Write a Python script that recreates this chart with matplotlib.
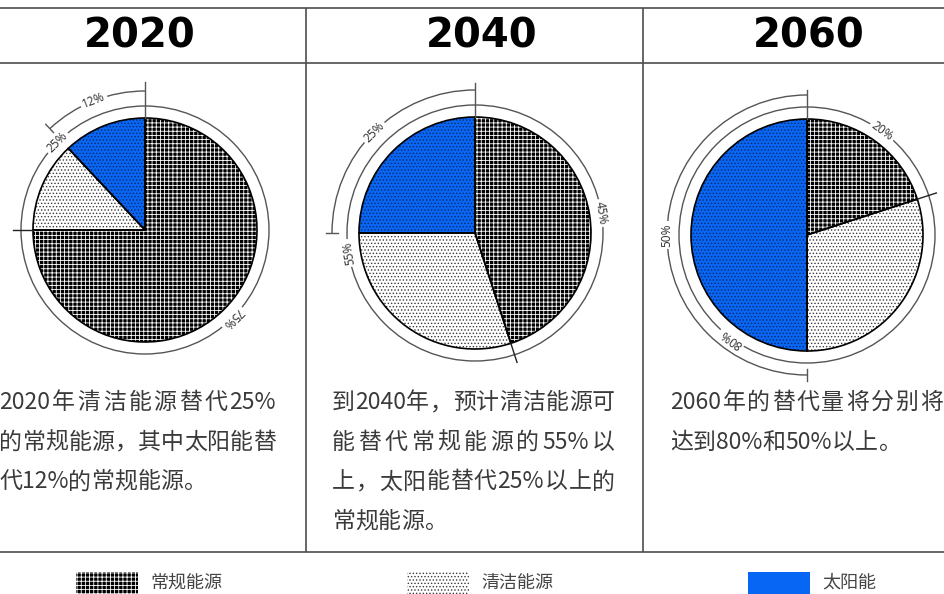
import re
import matplotlib
matplotlib.use('Agg')
import matplotlib.pyplot as plt
import numpy as np
from matplotlib.patches import Arc, Circle, Rectangle
from matplotlib.font_manager import FontProperties, findfont, get_font

# ---------------- data ----------------
years = ['2020', '2040', '2060']
categories = ['常规能源', '清洁能源', '太阳能']
conventional = [75, 45, 20]      # share of conventional energy
clean_other = [13, 30, 30]       # clean energy other than solar
solar = [12, 25, 50]             # solar energy
captions = [
    ['2020年清洁能源替代25%', '的常规能源，其中太阳能替', '代12%的常规能源。'],
    ['到2040年，预计清洁能源可', '能替代常规能源的55%以', '上，太阳能替代25%以上的', '常规能源。'],
    ['2060年的替代量将分别将', '达到80%和50%以上。'],
]

# ---------------- style ----------------
plt.rcParams['hatch.linewidth'] = 0.6
W, H = 944, 594
fig = plt.figure(figsize=(W / 100, H / 100), dpi=100)
ax = fig.add_axes([0, 0, 1, 1])


def Y(y):
    """Pixel row measured from the top -> data y."""
    return H - y


centers = [(145, 230), (475, 233), (807, 235)]
pie_r = [112, 116, 116]
ring_r = [124, 128, 128]
outer_r = [139, 143, 140]
spoke_r = [148, 150, 145]
title_x = [140, 482, 809]
col_left = [-1, 332, 670]
col_right = [276, 615, 943]
legend_x = [76, 407, 748]

fills = [
    dict(face='#000000', hatch='++++', hatch_color='#ffffff'),
    dict(face='#ffffff', hatch='.....', hatch_color='#3a3a3a'),
    dict(face='#0866f4', hatch='.....', hatch_color='#0b2a66'),
]
ARC = '#555555'
GRID = '#4d4d4d'
TXT = '#3a3a3a'
CJK = ['Noto Sans CJK SC', 'DejaVu Sans']

# ---------------- table frame ----------------
for yy in (8, 63, 552):
    ax.plot([0, W], [Y(yy), Y(yy)], color=GRID, lw=1.2, solid_capstyle='butt')
for xx in (306, 643):
    ax.plot([xx, xx], [Y(8), Y(552)], color=GRID, lw=1.2, solid_capstyle='butt')

# ---------------- titles ----------------
for i, yr in enumerate(years):
    ax.text(title_x[i], Y(36), yr, ha='center', va='center', fontsize=29,
            fontweight='bold', family='DejaVu Sans', color='black')


def arc_label(cx, cy, r, ang, text):
    t = np.deg2rad(ang)
    ax.text(cx + r * np.cos(t), cy + r * np.sin(t), text, rotation=ang - 90,
            rotation_mode='anchor', ha='center', va='center', fontsize=8.5,
            color=TXT, family='Noto Sans', zorder=5,
            bbox=dict(boxstyle='square,pad=0.2', fc='white', ec='none'))


# ---------------- pies ----------------
for i in range(3):
    vals = [conventional[i], clean_other[i], solar[i]]
    cx, cy = centers[i][0], Y(centers[i][1])
    wedges, _ = ax.pie(vals, center=(cx, cy), radius=pie_r[i], startangle=90,
                       counterclock=False, colors=[f['face'] for f in fills],
                       wedgeprops=dict(linewidth=0))
    for w, f in zip(wedges, fills):
        w.set_hatch(f['hatch'])
        w.set_edgecolor(f['hatch_color'])
        w.set_linewidth(0)
    ax.pie(vals, center=(cx, cy), radius=pie_r[i], startangle=90,
           counterclock=False,
           wedgeprops=dict(fill=False, edgecolor='black', linewidth=1.2))

    a_conv = 90 - 360 * conventional[i] / 100
    a_solar = 90 - 360 * (conventional[i] + clean_other[i]) / 100 + 360

    # ring: conventional vs. all clean energy
    ax.add_patch(Circle((cx, cy), ring_r[i], fill=False, ec=ARC, lw=1.0))
    arc_label(cx, cy, ring_r[i], (90 + a_conv) / 2, f'{conventional[i]}%')
    arc_label(cx, cy, ring_r[i], (a_conv - 270) / 2,
              f'{clean_other[i] + solar[i]}%')

    # outer arc: solar share
    ax.add_patch(Arc((cx, cy), 2 * outer_r[i], 2 * outer_r[i], theta1=90,
                     theta2=a_solar, ec=ARC, lw=1.0))
    arc_label(cx, cy, outer_r[i], (90 + a_solar) / 2, f'{solar[i]}%')
    t = np.deg2rad(a_solar)
    ax.plot([cx + (outer_r[i] - 6) * np.cos(t), cx + (outer_r[i] + 6) * np.cos(t)],
            [cy + (outer_r[i] - 6) * np.sin(t), cy + (outer_r[i] + 6) * np.sin(t)],
            color=ARC, lw=1.0)

    # spokes
    ax.plot([cx, cx], [cy + pie_r[i], cy + spoke_r[i]], color=ARC, lw=1.0)
    t = np.deg2rad(a_conv)
    ax.plot([cx + pie_r[i] * np.cos(t), cx + (ring_r[i] + 8) * np.cos(t)],
            [cy + pie_r[i] * np.sin(t), cy + (ring_r[i] + 8) * np.sin(t)],
            color='#222222', lw=1.0)

# ---------------- captions (justified) ----------------
CAP_SIZE = 16.5
CAP_Y0 = 409
CAP_DY = 39.7
cap_font = get_font(findfont(FontProperties(family='Noto Sans CJK SC')))
cap_font.set_size(CAP_SIZE, fig.dpi)


def advance(s):
    return sum(cap_font.load_char(ord(c)).linearHoriAdvance for c in s) / 65536.0


for i, lines in enumerate(captions):
    for k, line in enumerate(lines):
        toks = re.findall(r'[0-9A-Za-z%.]+|.', line)
        widths = [advance(t) for t in toks]
        if k == len(lines) - 1 or len(toks) < 2:
            gap = 0.0
        else:
            gap = (col_right[i] - col_left[i] - sum(widths)) / (len(toks) - 1)
        x = col_left[i]
        for tok, w in zip(toks, widths):
            ax.text(x, Y(CAP_Y0 + k * CAP_DY), tok, ha='left', va='baseline',
                    fontsize=CAP_SIZE, color=TXT, family=CJK)
            x += w + gap

# ---------------- legend ----------------
for i, name in enumerate(categories):
    f = fills[i]
    if i == 2:
        sw = Rectangle((legend_x[i], Y(597)), 62, 25, fc=f['face'], lw=0)
    else:
        sw = Rectangle((legend_x[i], Y(597)), 62, 25, fc=f['face'],
                       ec=f['hatch_color'], hatch=f['hatch'], lw=0)
    ax.add_patch(sw)
    ax.text(legend_x[i] + 74, Y(583), name, ha='left', va='center',
            fontsize=13, color='#444444', family=CJK)

ax.set_xlim(0, W)
ax.set_ylim(0, H)
ax.set_aspect('auto')
ax.axis('off')
fig.savefig('out.png', dpi=100)
